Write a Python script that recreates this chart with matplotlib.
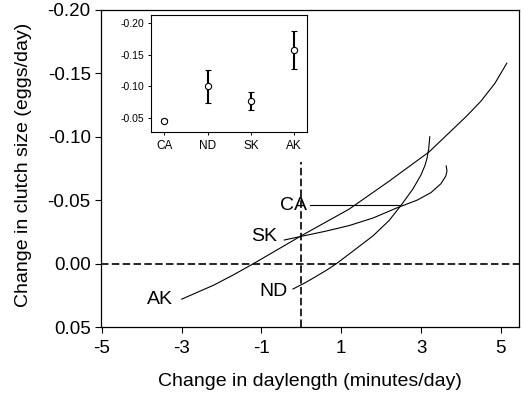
import matplotlib
matplotlib.use("Agg")
import matplotlib.pyplot as plt

plt.rcParams['font.family'] = ['Liberation Sans', 'DejaVu Sans']

# ---- main panel data ----
ak_x = [-3.0, -2.6, -2.2, -1.7, -1.2, -0.6, 0.0, 0.6, 1.2, 1.7, 2.2, 2.7, 3.2, 3.5, 3.8, 4.15, 4.5, 4.85, 5.15]
ak_y = [0.028, 0.0225, 0.017, 0.0088, 0.0, -0.011, -0.022, -0.0325, -0.043, -0.054, -0.065, -0.0765, -0.088, -0.097, -0.106, -0.1165, -0.128, -0.142, -0.158]

nd_x = [-0.21, 0.1, 0.4, 0.65, 0.88, 1.3, 1.8, 2.2, 2.5, 2.8, 3.0, 3.1, 3.15, 3.19, 3.22]
nd_y = [0.020, 0.015, 0.0095, 0.0048, 0.0, -0.010, -0.022, -0.034, -0.046, -0.059, -0.070, -0.0775, -0.083, -0.090, -0.100]

sk_x = [-0.43, 0.0, 0.6, 1.2, 1.8, 2.4, 2.9, 3.25, 3.5, 3.62, 3.65, 3.63]
sk_y = [-0.0186, -0.0215, -0.0255, -0.030, -0.036, -0.044, -0.050, -0.056, -0.063, -0.069, -0.073, -0.077]

ca_x = [0.22, 2.47]
ca_y = [-0.046, -0.046]

curve_labels = ["CA", "SK", "ND", "AK"]
label_x = [0.15, -0.62, -0.35, -3.22]
label_y = [-0.046, -0.021, 0.022, 0.028]

xticks = [-5, -3, -1, 1, 3, 5]
yticks = [-0.20, -0.15, -0.10, -0.05, 0.00, 0.05]

# ---- inset data ----
pops = ["CA", "ND", "SK", "AK"]
pop_mean = [-0.046, -0.100, -0.077, -0.158]
pop_err = [0.002, 0.026, 0.014, 0.030]
inset_yticks = [-0.20, -0.15, -0.10, -0.05]

fig = plt.figure(figsize=(5.24, 3.95), dpi=100)
ax = fig.add_axes([0.193, 0.172, 0.797, 0.803])

lw = 0.8
ax.plot(ak_x, ak_y, color='black', lw=lw)
ax.plot(nd_x, nd_y, color='black', lw=lw)
ax.plot(sk_x, sk_y, color='black', lw=lw)
ax.plot(ca_x, ca_y, color='black', lw=lw)

ax.axhline(0.0, color='black', lw=1.2, dashes=(4.5, 2))
ax.plot([0, 0], [0.05, -0.08], color='black', lw=1.2, dashes=(4.5, 2))

for t, x, y in zip(curve_labels, label_x, label_y):
    ax.text(x, y, t, ha='right', va='center', fontsize=14)

ax.set_xlim(-5.02, 5.45)
ax.set_ylim(0.05, -0.20)
ax.set_xticks(xticks)
ax.set_xticklabels([f"{v:d}" for v in xticks])
ax.set_yticks(yticks)
ax.set_yticklabels([f"{v:.2f}" if v != 0 else "0.00" for v in yticks])
ax.tick_params(labelsize=13.5, length=4.5, width=0.8, pad=3)
ax.tick_params(axis='x', pad=5)
ax.set_xlabel("Change in daylength (minutes/day)", fontsize=14, labelpad=11)
ax.set_ylabel("Change in clutch size (eggs/day)", fontsize=14)
ax.yaxis.set_label_coords(-0.165, 0.51)
for s in ax.spines.values():
    s.set_linewidth(0.9)

# ---- inset ----
ins = fig.add_axes([0.289, 0.666, 0.297, 0.296])
ins.errorbar(range(len(pops)), pop_mean, yerr=pop_err, fmt='o', mfc='white',
             mec='black', color='black', ms=4.5, mew=0.8, elinewidth=1.5,
             capsize=2, capthick=1.2)
ins.set_xlim(-0.3, 3.3)
ins.set_ylim(-0.028, -0.213)
ins.set_xticks(range(len(pops)))
ins.set_xticklabels(pops, fontsize=8.5)
ins.set_yticks(inset_yticks)
ins.set_yticklabels([f"{v:.2f}" for v in inset_yticks], fontsize=7.5)
ins.tick_params(length=2.5, width=0.7, pad=3)
for s in ins.spines.values():
    s.set_linewidth(0.8)

fig.savefig("out.png", dpi=100)
